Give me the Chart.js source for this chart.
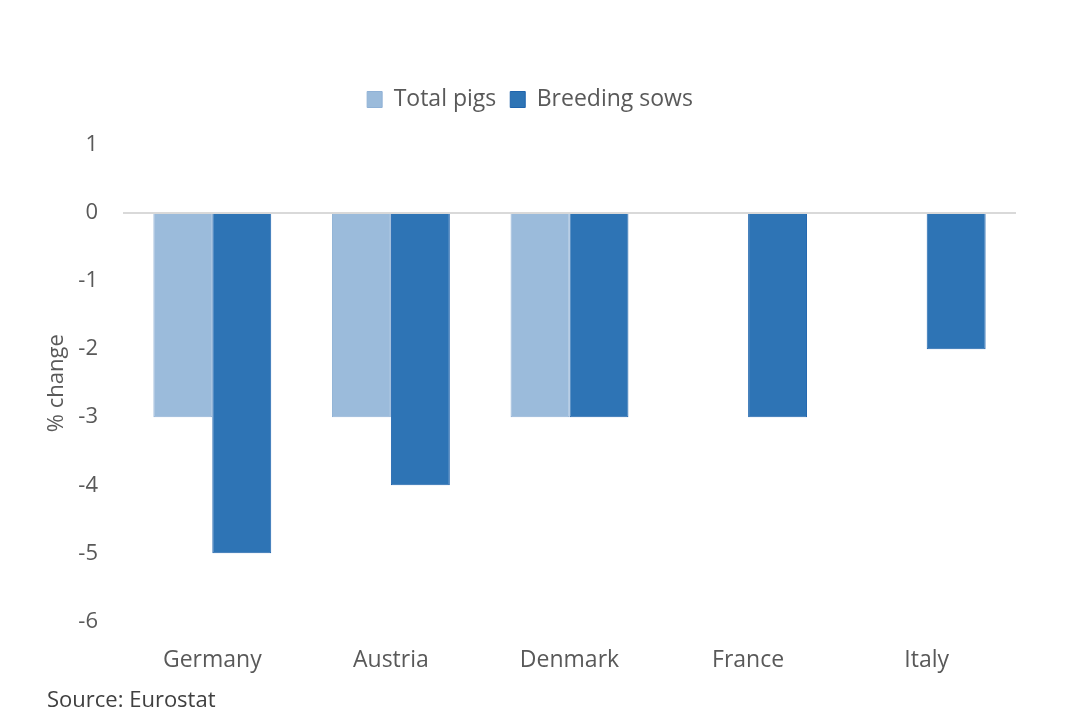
<!DOCTYPE html>
<html>
<head>
<meta charset="utf-8">
<script src="https://cdn.jsdelivr.net/npm/chart.js@4"></script>
<style>
    html, body { margin: 0; padding: 0; background: #ffffff; }
    #wrap { position: relative; width: 1070px; height: 713px; }
    #source {
        position: absolute; left: 47px; top: 683px;
        font-family: "Open Sans", sans-serif; font-size: 22px; color: #404040;
    }
</style>
</head>
<body>
<div id="wrap">
    <canvas id="chart" width="1070" height="713"></canvas>
    <div id="source">Source: Eurostat</div>
</div>
<script>
// values
const countries = ["Germany", "Austria", "Denmark", "France", "Italy"];
const totalPigs = [-3, -3, -3, 0, 0];
const breedingSows = [-5, -4, -3, -3, -2];
const yMin = -6;
const yMax = 1;

const font = "'Open Sans', sans-serif";
const grey = "#595959";

const canvas = document.getElementById("chart");
canvas.style.width = "1070px";
canvas.style.height = "713px";

// leaves a gap under the legend without moving the legend itself
const legendGap = {
    id: "legendGap",
    afterInit(chart) {
        const fit = chart.legend.fit;
        chart.legend.fit = function () {
            fit.call(this);
            this.height += 24;
        };
    }
};

new Chart(canvas.getContext("2d"), {
    type: "bar",
    data: {
        labels: countries,
        datasets: [
            {
                label: "Total pigs",
                data: totalPigs,
                backgroundColor: "#9bbbdb",
                borderColor: "#8fb1d6",
                borderWidth: 1
            },
            {
                label: "Breeding sows",
                data: breedingSows,
                backgroundColor: "#2e74b5",
                borderColor: "#1f64ad",
                borderWidth: 1
            }
        ]
    },
    plugins: [legendGap],
    options: {
        responsive: false,
        animation: false,
        devicePixelRatio: 1,
        layout: {
            padding: { left: 44, right: 54, top: 74, bottom: 22 }
        },
        datasets: {
            bar: { categoryPercentage: 0.66, barPercentage: 1.0 }
        },
        plugins: {
            tooltip: { enabled: false },
            legend: {
                position: "top",
                labels: {
                    font: { family: font, size: 23 },
                    color: grey,
                    boxWidth: 15,
                    boxHeight: 16,
                    padding: 14
                }
            }
        },
        scales: {
            x: {
                grid: { display: false },
                border: { display: false },
                ticks: {
                    font: { family: font, size: 23 },
                    color: grey,
                    padding: 17
                }
            },
            y: {
                min: yMin,
                max: yMax,
                afterFit(scale) {
                    scale.width = 79;
                },
                border: { display: false },
                grid: {
                    drawTicks: false,
                    lineWidth: 2,
                    color: (ctx) => ctx.tick && ctx.tick.value === 0 ? "#d9d9d9" : "rgba(0,0,0,0)"
                },
                ticks: {
                    stepSize: 1,
                    font: { family: font, size: 22 },
                    color: grey,
                    padding: 25
                },
                title: {
                    display: true,
                    text: "% change",
                    font: { family: font, size: 22 },
                    color: grey,
                    padding: { top: 0, bottom: 4 }
                }
            }
        }
    }
});
</script>
</body>
</html>
